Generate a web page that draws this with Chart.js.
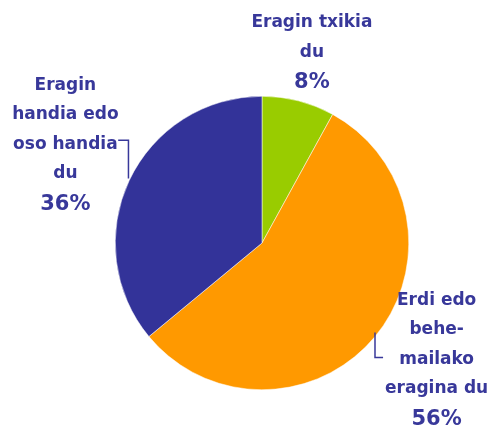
<!DOCTYPE html>
<html>
<head>
<meta charset="utf-8">
<script src="https://cdn.jsdelivr.net/npm/chart.js@4"></script>
<style>
  html, body { margin: 0; padding: 0; background: #fff; }
  #wrap { width: 495px; height: 428px; }
</style>
</head>
<body>
<div id="wrap"><canvas id="pieChart" width="495" height="428"></canvas></div>
<script>
// data
const categories = ['Eragin txikia du', 'Erdi edo behe-mailako eragina du', 'Eragin handia edo oso handia du'];
const percents = [8, 56, 36];
const labelLines = [
    ['Eragin txikia', 'du'],
    ['Erdi edo', 'behe-', 'mailako', 'eragina du'],
    ['Eragin', 'handia edo', 'oso handia', 'du']
];
const sliceColors = ['#99cc00', '#ff9900', '#333399'];

// where each label block sits, in units of the pie radius from the centre
const labelPos = [
    { x: 0.34, y: -1.50 },
    { x: 1.19, y: 0.39 },
    { x: -1.34, y: -1.075 }
];
const textColor = '#38389a';
const lineH = 29.5;

const outsideLabels = {
    id: 'outsideLabels',
    afterDraw(chart) {
        const ctx = chart.ctx;
        const arc = chart.getDatasetMeta(0).data[0];
        const cx = arc.x, cy = arc.y, r = arc.outerRadius;
        ctx.save();
        ctx.fillStyle = textColor;
        ctx.strokeStyle = textColor;
        ctx.lineWidth = 1.5;
        ctx.textAlign = 'center';
        ctx.textBaseline = 'middle';
        labelLines.forEach((lines, i) => {
            const lx = cx + labelPos[i].x * r;
            const ly = cy + labelPos[i].y * r;
            ctx.font = 'bold 17px "DejaVu Sans"';
            lines.forEach((t, j) => {
                ctx.fillText(t, lx, ly + j * lineH);
            });
            ctx.font = 'bold 21px "DejaVu Sans"';
            ctx.fillText(percents[i] + '%', lx, ly + lines.length * lineH + 1);
        });

        // leader lines
        ctx.beginPath();
        // left label (36%)
        ctx.moveTo(cx - 0.98 * r, cy - 0.70 * r);
        ctx.lineTo(cx - 0.91 * r, cy - 0.70 * r);
        ctx.lineTo(cx - 0.91 * r, cy - 0.44 * r);
        // right label (56%)
        ctx.moveTo(cx + 0.77 * r, cy + 0.61 * r);
        ctx.lineTo(cx + 0.77 * r, cy + 0.78 * r);
        ctx.lineTo(cx + 0.825 * r, cy + 0.78 * r);
        ctx.stroke();
        ctx.restore();
    }
};

new Chart(document.getElementById('pieChart'), {
    type: 'pie',
    data: {
        labels: categories,
        datasets: [{
            data: percents,
            backgroundColor: sliceColors,
            borderColor: '#ffffff',
            borderWidth: 0.5
        }]
    },
    options: {
        responsive: false,
        animation: false,
        layout: { padding: { top: 96, bottom: 38, left: 115, right: 86 } },
        plugins: {
            legend: { display: false },
            tooltip: { enabled: false }
        }
    },
    plugins: [outsideLabels]
});
</script>
</body>
</html>
